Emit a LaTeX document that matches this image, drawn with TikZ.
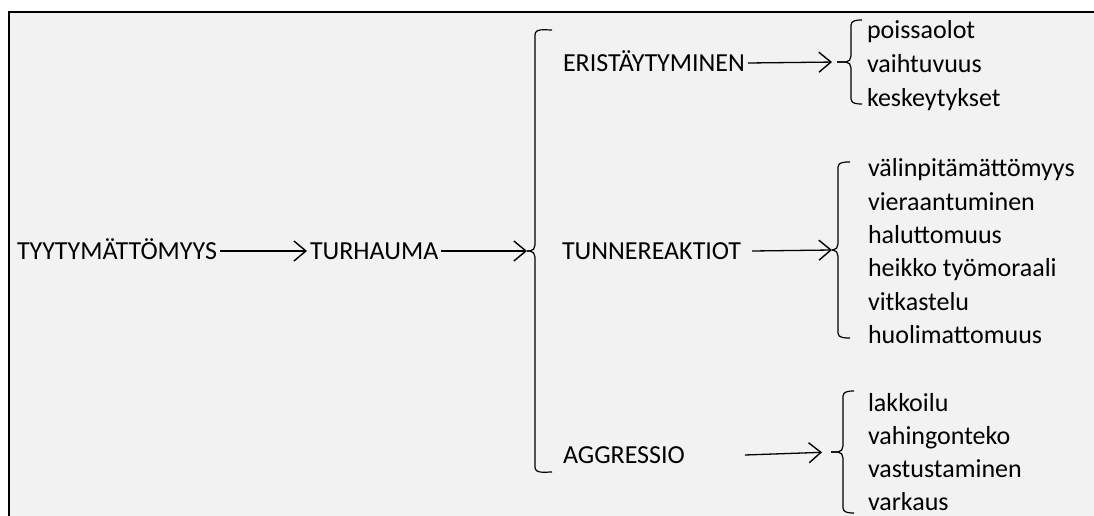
\documentclass[tikz,border=0pt]{standalone}
\usepackage{fontspec}
\setmainfont{Carlito}
\usetikzlibrary{arrows.meta}

% left curly bracket: cusp, stub length, half height, end tick
\newcommand{\drawbrace}[4]{%
  \draw[brace] (#1) -- ++(#2,0) to[out=0,in=-90] ++(5,-6) -- ++(0,-#3+11) to[out=90,in=180] ++(#4,-5);
  \draw[brace] (#1) -- ++(#2,0) to[out=0,in=90] ++(5,6) -- ++(0,#3-11) to[out=-90,in=180] ++(#4,5);
}

\begin{document}
\begin{tikzpicture}[x=1pt, y=-1pt,
  txt/.style={anchor=west, inner sep=0pt, outer sep=3pt, text height=17pt, text depth=0pt, font=\fontsize{26}{31}\selectfont},
  brace/.style={line width=1.2pt, line join=round},
  arr/.style={line width=1.3pt, -{Straight Barb[length=12pt, width=20pt, line width=1.4pt]}}]

\useasboundingbox (0,0) rectangle (1094,516);
\fill[white] (0,0) rectangle (1094,516);
\fill[black!5] (9,12) rectangle (1094,516);
\draw[line width=2pt] (9,516) -- (9,12) -- (1094,12);

%% main chain
\node at (14,251) [txt] (tyyty) {TYYTYMÄTTÖMYYS};
\node at (307,251) [txt] (turh) {TURHAUMA};

\node at (560,63) [txt] (eris) {ERISTÄYTYMINEN};
\node at (559,251) [txt] (tunne) {TUNNEREAKTIOT};
\node at (560,455) [txt] (aggr) {AGGRESSIO};

%% brackets
\coordinate (mainbr) at (527,251);
\coordinate (erisbr) at (837,62);
\coordinate (tunnebr) at (832,250);
\coordinate (aggrbr) at (831,452);

\drawbrace{mainbr}{3}{221}{17}
\drawbrace{erisbr}{9}{42}{11}
\drawbrace{tunnebr}{1}{88}{12}
\drawbrace{aggrbr}{7}{61}{11}

%% lists
\node at (864,30) [txt] (pois) {poissaolot};
\node at (864,64) [txt] (vaiht) {vaihtuvuus};
\node at (864,98) [txt] (kesk) {keskeytykset};

\node at (865,168) [txt] (valin) {välinpitämättömyys};
\node at (865,202) [txt] (viera) {vieraantuminen};
\node at (865,235) [txt] (halut) {haluttomuus};
\node at (865,268) [txt] (heikko) {heikko työmoraali};
\node at (865,302) [txt] (vitk) {vitkastelu};
\node at (865,335) [txt] (huoli) {huolimattomuus};

\node at (865,403) [txt] (lakko) {lakkoilu};
\node at (865,436) [txt] (vahin) {vahingonteko};
\node at (865,469) [txt] (vastu) {vastustaminen};
\node at (865,502) [txt] (vark) {varkaus};

%% arrows
\draw[arr] (tyyty.east) -- (turh.west);
\draw[arr] (turh.east) -- (mainbr);
\draw[arr, shorten >=5pt] (eris.east) -- (erisbr);
\draw[arr] ([xshift=8pt]tunne.east) -- (tunnebr);
\draw[arr, shorten >=9pt] ([xshift=57pt]aggr.east) -- (aggrbr);

\end{tikzpicture}
\end{document}
